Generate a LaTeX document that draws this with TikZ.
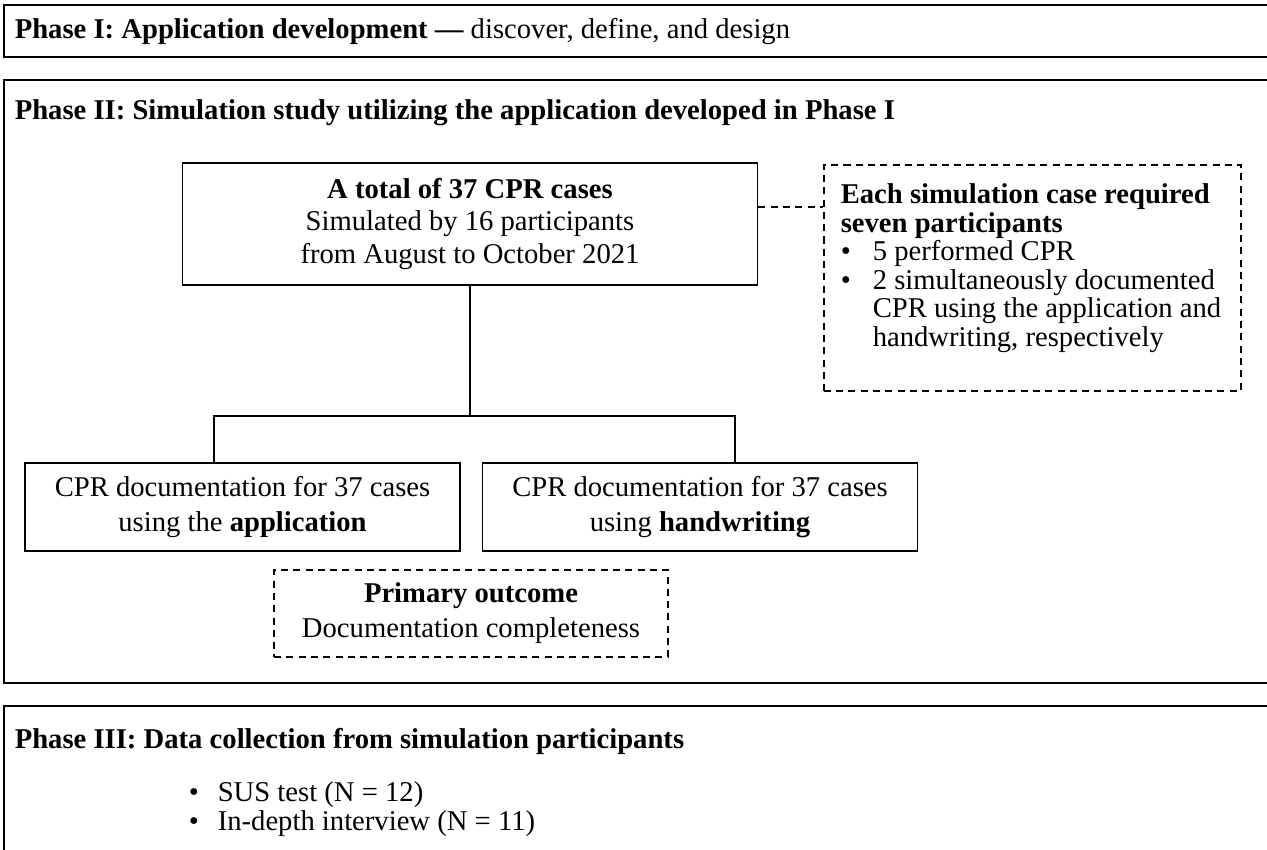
\documentclass[tikz,border=0pt]{standalone}
\usepackage{fontspec}
\setmainfont{Liberation Serif}
\usetikzlibrary{positioning,calc}

\begin{document}
\begin{tikzpicture}[x=1.000cm,y=1.000cm,line width=0.9pt,
 font=\fontsize{16.3pt}{18.7pt}\selectfont,
 phase/.style={draw,line width=1.1pt},
 box/.style={draw,align=center,inner sep=0pt},
 lowbox/.style={box,minimum width=8.7cm,minimum height=1.76cm,font=\fontsize{16.3pt}{19.9pt}\selectfont},
 dbox/.style={draw,dash pattern=on 4pt off 3pt,inner sep=0pt},
 dline/.style={dash pattern=on 4pt off 3pt},
 title/.style={anchor=west,inner sep=0pt,font=\fontsize{16.3pt}{18.7pt}\selectfont\bfseries}]
\clip (0,0) rectangle (25.34,-17.00);
% phase frames
\draw[phase] (0.08,-0.10) rectangle (26.00,-1.14);
\draw[phase] (0.08,-1.60) rectangle (26.00,-13.66);
\draw[phase] (0.08,-14.12) rectangle (26.00,-18.00);
\node[title] (ph1) at (0.28,-0.64) {Phase I: Application development --- \mdseries discover, define, and design};
\node[title] (ph2) at (0.28,-2.26) {Phase II: Simulation study utilizing the application developed in Phase I};
\node[title] (ph3) at (0.28,-14.82) {Phase III: Data collection from simulation participants};
% phase II
\node[box,minimum width=11.5cm,minimum height=2.44cm] (total) at (9.40,-4.48) {\textbf{A total of 37 CPR cases}\\Simulated by 16 participants\\from August to October 2021};
\node[dbox,anchor=north west,inner xsep=0.34cm,inner ysep=0.38cm] (req) at (16.46,-3.28) {\parbox[b][3.76cm][t]{7.66cm}{\raggedright\fontsize{16.3pt}{16.2pt}\selectfont
 \textbf{Each simulation case required}\\
 \textbf{seven participants}\\
 \makebox[0.64cm][l]{\textbullet}5 performed CPR\\
 \makebox[0.64cm][l]{\textbullet}2 simultaneously documented\\
 \hspace*{0.64cm}CPR using the application and\\
 \hspace*{0.64cm}handwriting, respectively}};
\coordinate (tie) at ([yshift=0.34cm]total.east);
\draw[dline] (tie) -- (tie -| req.west);
\node[lowbox] (app) at (4.85,-10.14) {CPR documentation for 37 cases\\using the \textbf{application}};
\node[lowbox] (hand) at (14.00,-10.14) {CPR documentation for 37 cases\\using \textbf{handwriting}};
\coordinate (split) at (9.40,-8.32);
\draw (total.south) -- (split);
\draw ([xshift=-0.57cm]app.north) |- (split) -| ([xshift=0.70cm]hand.north);
\node[dbox,align=center,minimum width=7.88cm,minimum height=1.74cm,font=\fontsize{16.3pt}{19.9pt}\selectfont] (outcome) at (9.42,-12.27) {\textbf{Primary outcome}\\Documentation completeness};
% phase III
\node[anchor=west,align=left,inner sep=0pt,font=\fontsize{16.3pt}{16.5pt}\selectfont] (sus) at (3.76,-16.19) {\makebox[0.58cm][l]{\textbullet}SUS test (N = 12)\\\makebox[0.58cm][l]{\textbullet}In-depth interview (N = 11)};
\end{tikzpicture}
\end{document}
